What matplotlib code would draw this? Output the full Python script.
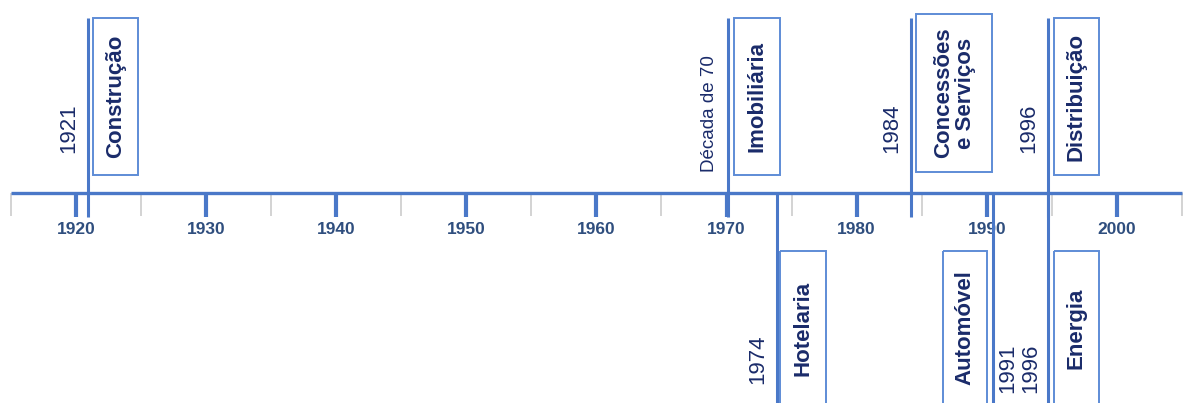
import matplotlib
matplotlib.use("Agg")
import matplotlib.pyplot as plt
from matplotlib.patches import Rectangle

# data
decades = [1920, 1930, 1940, 1950, 1960, 1970, 1980, 1990, 2000]
minor_ticks = [1915, 1925, 1935, 1945, 1955, 1965, 1975, 1985, 1995, 2005]

# events above the axis: year label, sector, line position (years)
top_labels = ["1921", "Década de 70", "1984", "1996"]
top_sectors = ["Construção", "Imobiliária", "Concessões\ne Serviços", "Distribuição"]
top_lines = [1920.9, 1970.1, 1984.2, 1994.7]
top_boxes = [(1921.3, 1924.8), (1970.6, 1974.1), (1984.6, 1990.4), (1995.2, 1998.6)]

# events below the axis
bottom_labels = ["1974", "1991", "1996"]
bottom_label_x = [1972.4, 1991.6, 1993.4]
bottom_sectors = ["Hotelaria", "Automóvel", "Energia"]
bottom_lines = [1973.9, 1990.5, 1994.7]
bottom_boxes = [(1974.1, 1977.65), (1986.65, 1990.0), (1995.2, 1998.6)]

LINE = '#4A78C8'
BOX = '#5E8CD6'
NAVY = '#1A2B6A'
TICKTXT = '#2F4E7E'
px = 1 / 13.01  # one pixel in years

fig = plt.figure(figsize=(11.86, 4.03), dpi=100)
ax = fig.add_axes([0, 0, 1, 1])
ax.set_xlim(1920 - 76 * px, 1920 + 1110 * px)
ax.set_ylim(403, 0)
ax.axis('off')

plt.rcParams['font.family'] = ['Liberation Sans', 'DejaVu Sans']

# main axis
ax.plot([minor_ticks[0], minor_ticks[-1]], [193, 193], color=LINE, lw=2.4, solid_capstyle='butt', zorder=3)
ax.vlines(minor_ticks, 193, 216, color='#D0D0D0', lw=1.3, zorder=1)
ax.vlines(decades, 193, 217, color=LINE, lw=3, zorder=3)
for d in decades:
    ax.text(d, 229, str(d), ha='center', va='center', fontsize=12.5, fontweight='bold', color=TICKTXT)

# top events
for lab, sec, x, (b0, b1) in zip(top_labels, top_sectors, top_lines, top_boxes):
    ax.vlines(x, 18, 217, color=LINE, lw=2.2, zorder=4)
    if lab.startswith('D'):
        ax.text(x - 18 * px, 172, lab, rotation=90, ha='center', va='bottom', fontsize=13.5, color=NAVY)
    else:
        ax.text(x - 19 * px, 153, lab, rotation=90, ha='center', va='bottom', fontsize=16, color=NAVY)
    y0, y1 = (14, 172) if '\n' in sec else (18, 175)
    ax.add_patch(Rectangle((b0, y0), b1 - b0, y1 - y0, fill=False, ec=BOX, lw=1.4, zorder=2))
    ax.text((b0 + b1) / 2, (y0 + y1) / 2, sec, rotation=90, ha='center', va='center',
            fontsize=16, fontweight='bold', color=NAVY, multialignment='center', linespacing=1.05)

# bottom events
for x in bottom_lines:
    ax.vlines(x, 193, 403, color=LINE, lw=2.2, zorder=4)
for lab, x in zip(bottom_labels, bottom_label_x):
    ax.text(x, 393 if lab != '1974' else 384, lab, rotation=90, ha='center', va='bottom', fontsize=16, color=NAVY)
for sec, (b0, b1) in zip(bottom_sectors, bottom_boxes):
    ax.add_patch(Rectangle((b0, 251), b1 - b0, 160, fill=False, ec=BOX, lw=1.4, zorder=2))
    ax.text((b0 + b1) / 2, 328, sec, rotation=90, ha='center', va='center',
            fontsize=16, fontweight='bold', color=NAVY)

fig.savefig('out.png', dpi=100)
